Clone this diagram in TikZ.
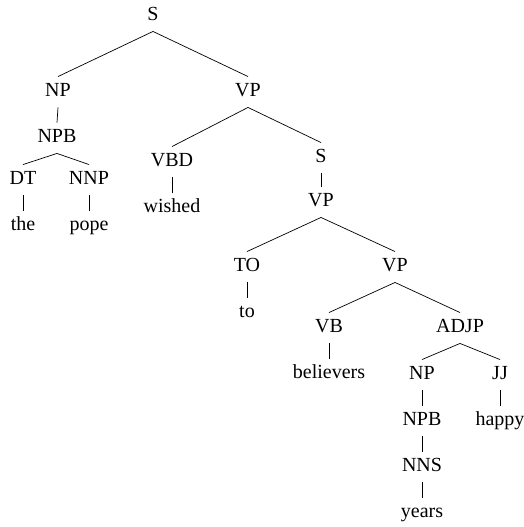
\documentclass[tikz,border=0pt]{standalone}
\usepackage{fontspec}
\setmainfont{Liberation Serif}

\begin{document}
\begin{tikzpicture}[x=1pt,y=-1pt,
        tag/.style={inner xsep=1pt,inner ysep=6.5pt,text height=13.5pt,text depth=4pt,font=\fontsize{20}{24}\selectfont},
        edge/.style={line width=0.7pt}]
        \useasboundingbox (0,0) rectangle (523,527);
        % labels
        \node[tag] (s) at (153,16) {S};
        \node[tag] (np) at (58,92) {NP};
        \node[tag] (vp) at (248,92) {VP};
        \node[tag] (npb) at (57,138) {NPB};
        \node[tag] (dt) at (23,180) {DT};
        \node[tag] (nnp) at (89,180) {NNP};
        \node[tag] (the) at (23,226) {the};
        \node[tag] (pope) at (89,226) {pope};
        \node[tag] (vbd) at (172,162) {VBD};
        \node[tag] (wished) at (172,208) {wished};
        \node[tag] (s2) at (321,158) {S};
        \node[tag] (vp2) at (321,202) {VP};
        \node[tag] (to) at (247,267) {TO};
        \node[tag] (tow) at (247,313) {to};
        \node[tag] (vp3) at (395,267) {VP};
        \node[tag] (vb) at (329,328) {VB};
        \node[tag] (believers) at (329,374) {believers};
        \node[tag] (adjp) at (460,328) {ADJP};
        \node[tag] (np2) at (422,375) {NP};
        \node[tag] (jj) at (500,375) {JJ};
        \node[tag] (npb2) at (422,421) {NPB};
        \node[tag] (happy) at (500,421) {happy};
        \node[tag] (nns) at (422,467) {NNS};
        \node[tag] (years) at (422,513) {years};
        % branches
        \draw[edge] (s.south) -- (np.north);
        \draw[edge] (s.south) -- (vp.north);
        \draw[edge] (np.south) -- (npb.north);
        \draw[edge] (npb.south) -- (dt.north);
        \draw[edge] (npb.south) -- (nnp.north);
        \draw[edge] (dt.south) -- (the.north);
        \draw[edge] (nnp.south) -- (pope.north);
        \draw[edge] (vp.south) -- (vbd.north);
        \draw[edge] (vp.south) -- (s2.north);
        \draw[edge] (vbd.south) -- (wished.north);
        \draw[edge] (s2.south) -- (vp2.north);
        \draw[edge] (vp2.south) -- (to.north);
        \draw[edge] (vp2.south) -- (vp3.north);
        \draw[edge] (to.south) -- (tow.north);
        \draw[edge] (vp3.south) -- (vb.north);
        \draw[edge] (vp3.south) -- (adjp.north);
        \draw[edge] (vb.south) -- (believers.north);
        \draw[edge] (adjp.south) -- (np2.north);
        \draw[edge] (adjp.south) -- (jj.north);
        \draw[edge] (np2.south) -- (npb2.north);
        \draw[edge] (jj.south) -- (happy.north);
        \draw[edge] (npb2.south) -- (nns.north);
        \draw[edge] (nns.south) -- (years.north);
\end{tikzpicture}
\end{document}
